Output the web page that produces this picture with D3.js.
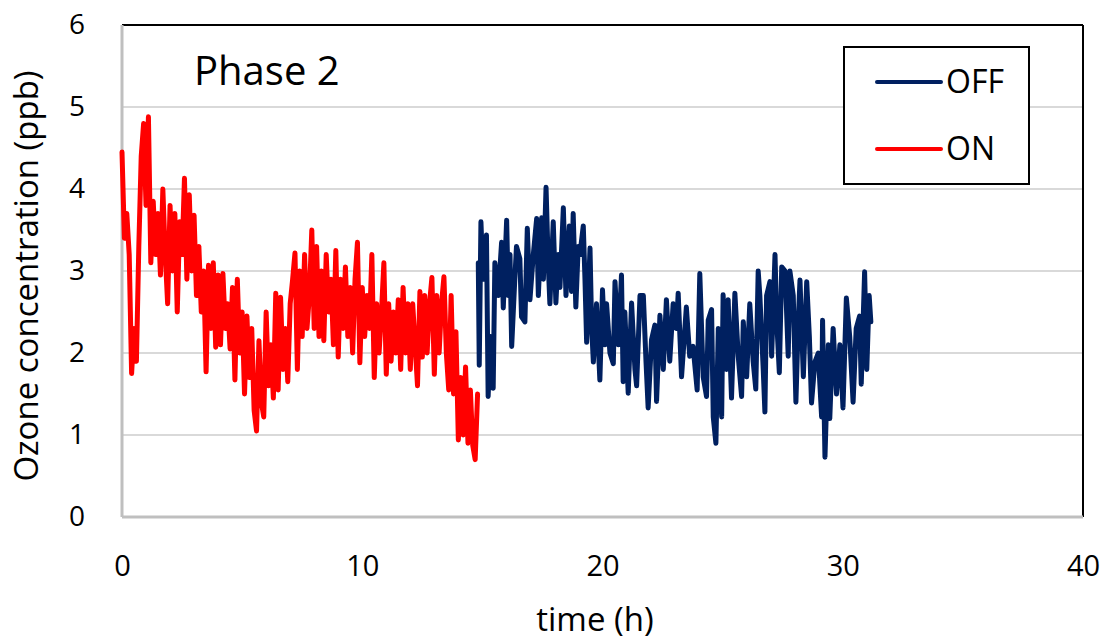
<!DOCTYPE html>
<html>
<head>
<meta charset="utf-8">
<script src="https://cdn.jsdelivr.net/npm/d3@7"></script>
<style>
    body { margin: 0; background: #fff; }
    text { font-family: "Open Sans", "DejaVu Sans", sans-serif; fill: #000; }
</style>
</head>
<body>
<script>

//DATA

//ON series, sampled every 0.1 h from t = 0
var onStep = 0.1;
var onValues = [
    4.45, 3.4, 3.7, 3.2, 1.75, 2.3, 1.9, 3.3, 4.4, 4.8,
    3.8, 4.88, 3.1, 3.85, 3.2, 3.7, 2.95, 4.0, 3.2, 2.6,
    3.8, 3.0, 3.7, 2.5, 3.6, 3.2, 4.13, 2.9, 3.93, 3.0,
    3.68, 2.7, 3.3, 2.5, 3.0, 1.77, 3.07, 2.3, 3.1, 2.07,
    2.95, 2.1, 2.97, 2.3, 2.6, 2.05, 2.8, 1.67, 2.9, 2.0,
    2.5, 1.5, 2.45, 1.7, 2.3, 1.3, 1.05, 2.15, 1.4, 1.22,
    2.5, 1.6, 2.1, 1.45, 2.73, 1.55, 2.68, 1.8, 2.3, 1.65,
    2.6, 2.89, 3.22, 1.8, 3.0, 2.2, 3.2, 2.3, 2.7, 3.5,
    2.3, 3.3, 2.2, 3.0, 2.15, 3.2, 2.5, 2.9, 2.1, 3.25,
    1.95, 2.9, 2.3, 3.05, 2.2, 2.8, 2.0, 2.9, 3.35, 1.88,
    2.8, 2.2, 2.7, 2.3, 3.2, 1.7, 2.6, 2.0, 2.5, 3.1,
    1.74, 2.6, 1.9, 2.5, 2.0, 2.65, 1.8, 2.8, 2.0, 2.6,
    1.8, 2.6, 2.1, 1.6, 2.75, 1.95, 2.7, 2.0, 2.6, 2.92,
    1.74, 2.7, 2.0, 2.6, 2.93, 2.0, 1.55, 2.7, 1.5, 2.26,
    0.94, 1.7, 1.0, 1.83, 0.9, 1.55, 0.87, 0.7, 1.5
];

//OFF series, times (h) and values (ppb)
var offTimes = [
    14.83, 14.87, 14.94, 15.03, 15.17, 15.24, 15.34, 15.45, 15.52, 15.66,
    15.8, 15.87, 16.01, 16.08, 16.15, 16.22, 16.35, 16.42, 16.56, 16.63,
    16.77, 16.87, 16.98, 17.12, 17.26, 17.33, 17.47, 17.54, 17.65, 17.74,
    17.81, 17.95, 18.06, 18.16, 18.23, 18.37, 18.48, 18.62, 18.71, 18.78,
    18.89, 18.99, 19.06, 19.2, 19.27, 19.34, 19.48, 19.55, 19.62, 19.75,
    19.89, 20.0, 20.1, 20.17, 20.31, 20.45, 20.52, 20.66, 20.79, 20.86,
    20.93, 21.07, 21.21, 21.35, 21.42, 21.56, 21.7, 21.81, 21.9, 22.04,
    22.18, 22.25, 22.39, 22.53, 22.66, 22.8, 22.94, 23.08, 23.15, 23.29,
    23.49, 23.63, 23.77, 23.94, 24.05, 24.19, 24.33, 24.4, 24.54, 24.61,
    24.72, 24.82, 24.96, 25.02, 25.16, 25.23, 25.37, 25.51, 25.65, 25.79,
    25.86, 26.0, 26.13, 26.27, 26.38, 26.48, 26.55, 26.69, 26.76, 26.83,
    26.97, 27.04, 27.18, 27.25, 27.36, 27.46, 27.6, 27.73, 27.8, 27.94,
    28.05, 28.15, 28.22, 28.36, 28.5, 28.61, 28.7, 28.84, 28.98, 29.12,
    29.16, 29.26, 29.4, 29.46, 29.6, 29.74, 29.88, 30.01, 30.15, 30.29,
    30.43, 30.56, 30.7, 30.77, 30.91, 31.0, 31.1, 31.17
];
var offValues = [
    3.1, 1.85, 3.6, 2.9, 3.44, 1.47, 2.2, 1.57, 3.1, 2.7,
    3.35, 2.55, 3.62, 2.7, 3.2, 2.08, 2.9, 3.3, 3.15, 2.44,
    2.38, 3.52, 2.65, 3.2, 3.64, 2.7, 3.65, 2.9, 4.02, 3.1,
    2.6, 3.6, 2.61, 3.2, 2.8, 3.77, 2.7, 3.55, 2.75, 3.7,
    2.56, 3.3, 3.2, 3.55, 2.9, 2.13, 3.28, 2.3, 1.89, 2.6,
    1.67, 2.77, 2.1, 2.6, 2.0, 1.87, 2.87, 2.1, 2.95, 1.65,
    2.5, 1.51, 2.61, 1.8, 1.6, 2.7, 2.7, 1.9, 1.33, 2.16,
    2.34, 1.41, 2.46, 1.8, 2.65, 1.9, 2.6, 2.3, 2.73, 1.71,
    2.56, 1.96, 2.08, 1.55, 2.97, 1.71, 1.47, 2.4, 2.53, 1.22,
    0.9, 2.3, 1.22, 2.71, 1.8, 2.65, 1.45, 2.73, 1.96, 1.47,
    2.38, 1.71, 2.6, 1.9, 1.56, 3.0, 2.7, 1.8, 1.28, 2.7,
    2.87, 1.96, 3.2, 2.4, 1.76, 3.05, 3.0, 1.96, 3.0, 2.7,
    1.4, 2.4, 2.89, 1.71, 2.87, 2.2, 1.39, 1.89, 2.0, 1.22,
    2.4, 0.73, 2.1, 1.2, 2.3, 1.5, 2.1, 1.33, 2.67, 2.2,
    1.4, 2.3, 2.45, 1.62, 2.99, 1.8, 2.7, 2.38
];

var xTicks = [0, 10, 20, 30, 40];
var yTicks = [0, 1, 2, 3, 4, 5, 6];
var seriesNames = ["OFF", "ON"];
var seriesColors = ["#002060", "#ff0000"];


//Size and margins
var w = 1110;
var h = 643;

var margin = {
        top: 25,
        bottom: 126,
        right: 27,
        left: 122
    };

var height = h - margin.top - margin.bottom;
var width = w - margin.left - margin.right;


//Build point lists
var onData = onValues.map(function(v, i) {
    return { t: i * onStep, v: v };
});
var offData = offValues.map(function(v, i) {
    return { t: offTimes[i], v: v };
});


//Scales
var x = d3.scaleLinear()
    .domain([0, 40])
    .range([0, width]);

var y = d3.scaleLinear()
    .domain([0, 6])
    .range([height, 0]);


///CHART

var svg = d3.select("body").append("svg")
    .attr("width", w)
    .attr("height", h);

svg.append("rect")
    .attr("width", w)
    .attr("height", h)
    .attr("fill", "#fff");

var chart = svg.append("g")
    .attr("transform", "translate(" + margin.left + "," + margin.top + ")");


//Gridlines
chart.selectAll(".grid")
    .data(yTicks.filter(function(d) { return d > 0 && d < 6; }))
    .enter()
        .append("line")
        .attr("x1", 0)
        .attr("x2", width)
        .attr("y1", function(d) { return y(d); })
        .attr("y2", function(d) { return y(d); })
        .style("stroke", "#d9d9d9")
        .style("stroke-width", 2);

//Frame: black top and right, grey axes left and bottom
chart.append("line")
    .attr("x1", 0).attr("x2", width)
    .attr("y1", y(6)).attr("y2", y(6))
    .style("stroke", "#000").style("stroke-width", 2);

chart.append("line")
    .attr("x1", width).attr("x2", width)
    .attr("y1", y(6)).attr("y2", y(0))
    .style("stroke", "#000").style("stroke-width", 2);

chart.append("line")
    .attr("x1", 0).attr("x2", 0)
    .attr("y1", y(6)).attr("y2", y(0))
    .style("stroke", "#bfbfbf").style("stroke-width", 3);

chart.append("line")
    .attr("x1", 0).attr("x2", width)
    .attr("y1", y(0)).attr("y2", y(0))
    .style("stroke", "#bfbfbf").style("stroke-width", 3);


//Axes (labels only)
var xAxis = d3.axisBottom(x).tickValues(xTicks).tickSize(0).tickPadding(38)
    .tickFormat(d3.format("d"));
var yAxis = d3.axisLeft(y).tickValues(yTicks).tickSize(0).tickPadding(37)
    .tickFormat(d3.format("d"));

chart.append("g")
    .attr("transform", "translate(0," + height + ")")
    .call(xAxis)
    .call(function(g) { g.select(".domain").remove(); })
    .selectAll("text")
        .style("font-size", "29px")
        .style("font-family", "'Open Sans', sans-serif")
        .attr("fill", "#000");

chart.append("g")
    .call(yAxis)
    .call(function(g) { g.select(".domain").remove(); })
    .selectAll("text")
        .style("font-size", "28px")
        .style("font-family", "'Open Sans', sans-serif")
        .attr("fill", "#000");


//Series lines
var line = d3.line()
    .x(function(d) { return x(d.t); })
    .y(function(d) { return y(d.v); });

chart.append("path")
    .datum(offData)
    .attr("d", line)
    .attr("fill", "none")
    .style("stroke", seriesColors[0])
    .style("stroke-width", 5)
    .style("stroke-linejoin", "round")
    .style("stroke-linecap", "round");

chart.append("path")
    .datum(onData)
    .attr("d", line)
    .attr("fill", "none")
    .style("stroke", seriesColors[1])
    .style("stroke-width", 5)
    .style("stroke-linejoin", "round")
    .style("stroke-linecap", "round");


//Phase label
svg.append("text")
    .attr("x", 194)
    .attr("y", 85)
    .style("font-size", "40px")
    .text("Phase 2");


//Legend
var legend = svg.append("g")
    .attr("transform", "translate(844,47)");

legend.append("rect")
    .attr("width", 185)
    .attr("height", 137)
    .attr("fill", "#fff")
    .style("stroke", "#000")
    .style("stroke-width", 2);

var item = legend.selectAll(".item")
    .data(seriesNames)
    .enter()
        .append("g")
        .attr("transform", function(d, i) { return "translate(0," + (35 + i * 67) + ")"; });

item.append("line")
    .attr("x1", 33)
    .attr("x2", 97)
    .style("stroke", function(d, i) { return seriesColors[i]; })
    .style("stroke-width", 4)
    .style("stroke-linecap", "round");

item.append("text")
    .attr("x", 102)
    .attr("y", 11)
    .style("font-size", "32px")
    .text(function(d) { return d; });


//Axis titles
svg.append("text")
    .attr("transform", "translate(38," + 276 + ") rotate(-90)")
    .style("font-size", "33px")
    .style("text-anchor", "middle")
    .text("Ozone concentration (ppb)");

svg.append("text")
    .attr("x", 595)
    .attr("y", 631)
    .style("font-size", "33px")
    .style("text-anchor", "middle")
    .text("time (h)");

</script>
</body>
</html>
